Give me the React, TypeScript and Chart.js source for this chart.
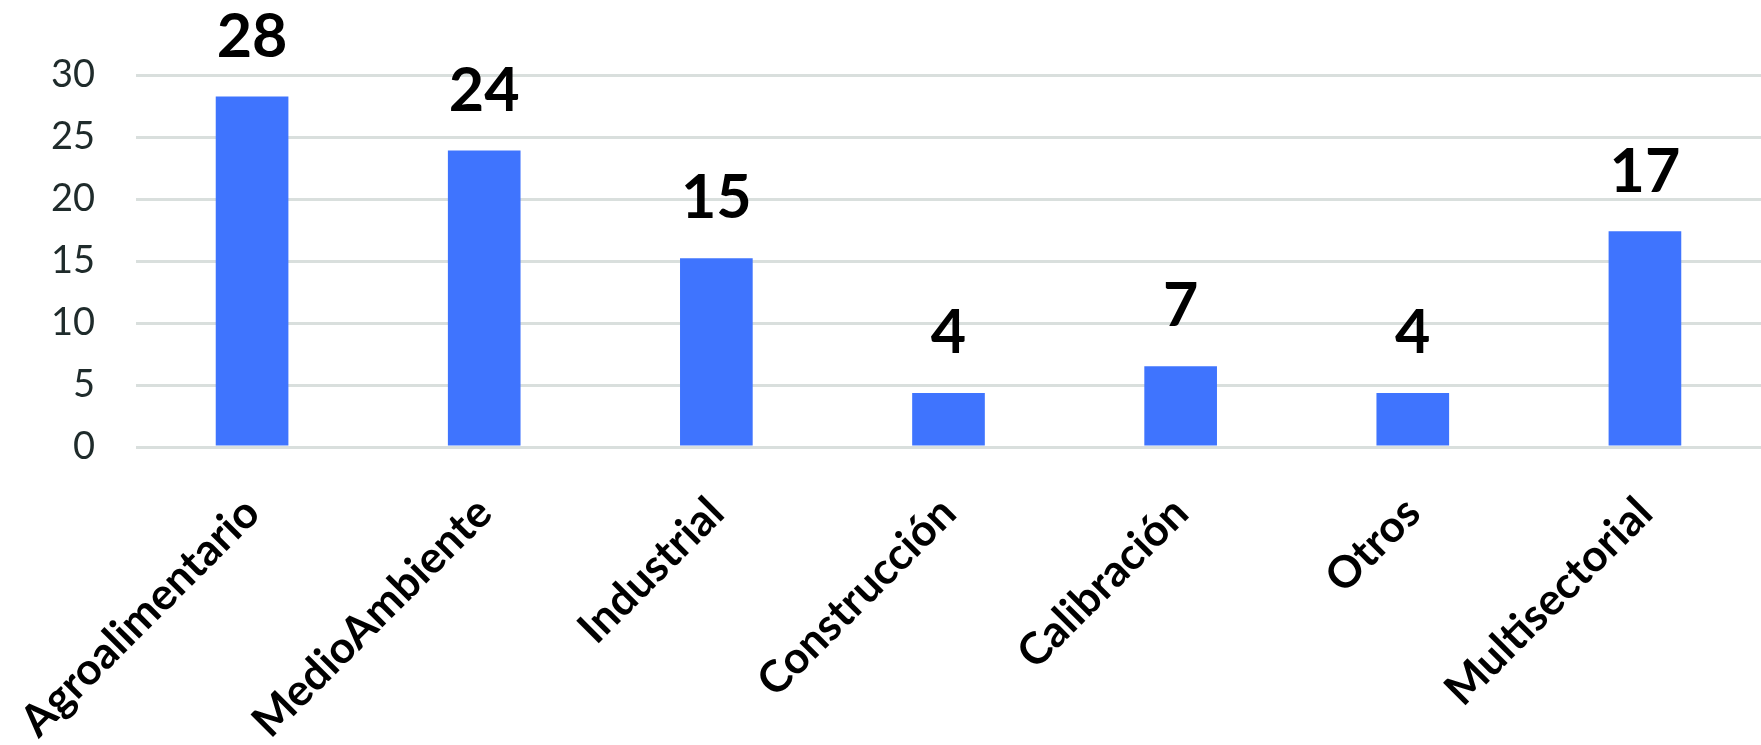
import React, { useEffect, useRef } from "react";
import { Chart, registerables } from "chart.js";

Chart.register(...registerables);

const categories = [
  "Agroalimentario",
  "MedioAmbiente",
  "Industrial",
  "Construcción",
  "Calibración",
  "Otros",
  "Multisectorial",
];
const values = [28.26, 23.91, 15.22, 4.35, 6.52, 4.35, 17.39];
const yTicks = [0, 5, 10, 15, 20, 25, 30];

const BAR_COLOR = "#3f74fe";
const GRID_COLOR = "#d9dfdd";

const valueLabels = {
  id: "valueLabels",
  afterDatasetsDraw(chart: any) {
    const ctx = chart.ctx;
    const meta = chart.getDatasetMeta(0);
    ctx.save();
    ctx.font = "bold 61px Lato";
    ctx.fillStyle = "#000000";
    ctx.textAlign = "center";
    ctx.textBaseline = "bottom";
    meta.data.forEach((bar: any, i: number) => {
      const v = chart.data.datasets[0].data[i] as number;
      ctx.fillText(String(Math.round(v)), bar.x, bar.y - 29);
    });
    ctx.restore();
  },
};

export default function App() {
  const ref = useRef<HTMLCanvasElement | null>(null);

  useEffect(() => {
    document.body.style.margin = "0";
    if (!ref.current) return;
    const chart = new Chart(ref.current, {
      type: "bar",
      data: {
        labels: categories,
        datasets: [
          {
            data: values,
            backgroundColor: BAR_COLOR,
            borderWidth: 0,
            categoryPercentage: 1,
            barPercentage: 0.313,
          },
        ],
      },
      options: {
        animation: false,
        responsive: false,
        maintainAspectRatio: false,
        devicePixelRatio: 1,
        layout: { padding: { top: 75, left: 0, right: 0, bottom: 0 } },
        plugins: {
          legend: { display: false },
          tooltip: { enabled: false },
          title: { display: false },
        },
        scales: {
          x: {
            grid: { display: false },
            border: { display: false },
            ticks: {
              color: "#000000",
              font: { family: "Lato", size: 44, weight: "bold" },
              maxRotation: 45,
              minRotation: 45,
              padding: 32,
              autoSkip: false,
            },
            afterFit(scale: any) {
              scale.height = 298;
              scale.paddingLeft = 0;
              scale.paddingRight = 0;
            },
          },
          y: {
            min: 0,
            max: 30,
            afterBuildTicks(scale: any) {
              scale.ticks = yTicks.map((v) => ({ value: v }));
            },
            grid: {
              color: GRID_COLOR,
              lineWidth: 3,
              drawTicks: false,
            },
            border: { display: false },
            ticks: {
              color: "#1f2b2b",
              font: { family: "Lato", size: 38 },
              padding: 41,
            },
            afterFit(scale: any) {
              scale.width = 136;
              scale.paddingTop = 0;
              scale.paddingBottom = 0;
            },
          },
        },
      },
      plugins: [valueLabels],
    });
    return () => chart.destroy();
  }, []);

  return (
    <div style={{ position: "fixed", left: 0, top: 0, width: 1761, height: 745, background: "#ffffff" }}>
      <canvas ref={ref} width={1761} height={745} style={{ display: "block" }} />
    </div>
  );
}
